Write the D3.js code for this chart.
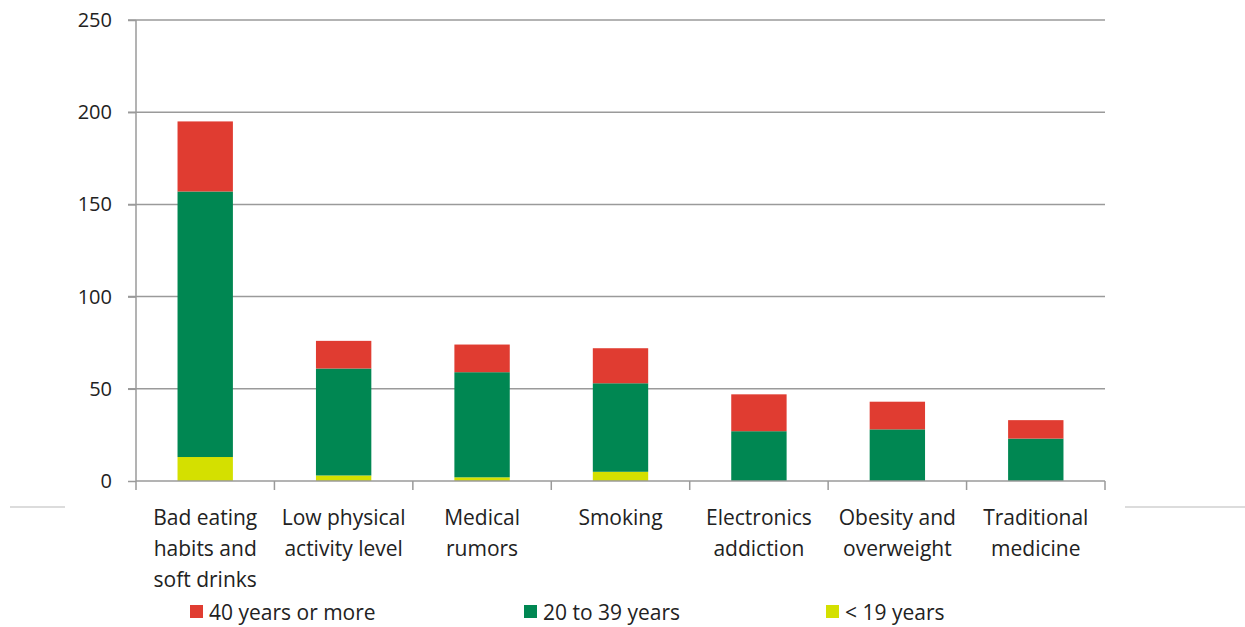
<!DOCTYPE html>
<html>
<head>
<meta charset="utf-8">
<style>
  body { margin: 0; background: #fff; }
  svg { display: block; }
  text { font-family: "Open Sans", "Liberation Sans", sans-serif; fill: #222; }
  .grid line { stroke: #9a9a9a; stroke-width: 1.5; }
  .axis path, .axis line { stroke: #9a9a9a; stroke-width: 1.5; }
</style>
</head>
<body>
<svg width="1245" height="627"></svg>
<script src="https://cdnjs.cloudflare.com/ajax/libs/d3/7.8.5/d3.min.js"></script>
<script>
// categories (multi-line labels)
var categories = [
  ["Bad eating", "habits and", "soft drinks"],
  ["Low physical", "activity level"],
  ["Medical", "rumors"],
  ["Smoking"],
  ["Electronics", "addiction"],
  ["Obesity and", "overweight"],
  ["Traditional", "medicine"]
];
var seriesNames = ["< 19 years", "20 to 39 years", "40 years or more"];
var under19 = [13, 3, 2, 5, 0, 0, 0];
var from20to39 = [144, 58, 57, 48, 27, 28, 23];
var over40 = [38, 15, 15, 19, 20, 15, 10];
var yTicks = [0, 50, 100, 150, 200, 250];
var legendOrder = ["40 years or more", "20 to 39 years", "< 19 years"];

var colors = { "< 19 years": "#d4e000", "20 to 39 years": "#008752", "40 years or more": "#e03c31" };

var mLeft = 136, mRight = 1105, mTop = 20, mBottom = 481;

var rows = categories.map(function(c, i) {
  return { key: i, "< 19 years": under19[i], "20 to 39 years": from20to39[i], "40 years or more": over40[i] };
});

var x = d3.scaleBand()
  .domain(d3.range(categories.length))
  .range([mLeft, mRight])
  .paddingInner(0.6)
  .paddingOuter(0.3);

var y = d3.scaleLinear().domain([0, 250]).range([mBottom, mTop]);

var svg = d3.select('svg');

// stray grey lines at the edges of the picture
svg.append('line').attr('x1', 10).attr('x2', 65).attr('y1', 507).attr('y2', 507)
  .attr('stroke', '#d0d0d0').attr('stroke-width', 1.5);
svg.append('line').attr('x1', 1125).attr('x2', 1245).attr('y1', 507).attr('y2', 507)
  .attr('stroke', '#d0d0d0').attr('stroke-width', 1.5);

// gridlines
svg.append('g').attr('class', 'grid')
  .selectAll('line').data(yTicks.slice(1)).enter().append('line')
  .attr('x1', mLeft - 8).attr('x2', mRight)
  .attr('y1', function(d) { return y(d); }).attr('y2', function(d) { return y(d); });

// y axis
var yAxis = d3.axisLeft(y).tickValues(yTicks).tickSize(8).tickPadding(16);
svg.append('g').attr('class', 'axis')
  .attr('transform', 'translate(' + mLeft + ',0)')
  .call(yAxis)
  .call(function(g) { g.select('.domain').attr('d', 'M0,' + mTop + 'V' + mBottom); })
  .selectAll('text').style('font-size', '20px').attr('fill', '#222');

// stacked bars
var stack = d3.stack().keys(seriesNames);
var layers = stack(rows);

svg.append('g').selectAll('g').data(layers).enter().append('g')
  .attr('fill', function(d) { return colors[d.key]; })
  .selectAll('rect').data(function(d) { return d; }).enter().append('rect')
  .attr('x', function(d, i) { return x(i); })
  .attr('width', x.bandwidth())
  .attr('y', function(d) { return y(d[1]); })
  .attr('height', function(d) { return y(d[0]) - y(d[1]); });

// x axis line + category ticks
var xg = svg.append('g').attr('class', 'axis');
xg.append('line').attr('x1', mLeft).attr('x2', mRight).attr('y1', mBottom).attr('y2', mBottom);
var step = x.step();
xg.selectAll('.tk').data(d3.range(categories.length + 1)).enter().append('line')
  .attr('class', 'tk')
  .attr('x1', function(i) { return mLeft + i * step; })
  .attr('x2', function(i) { return mLeft + i * step; })
  .attr('y1', mBottom).attr('y2', mBottom + 9);

// category labels
var lab = svg.append('g').selectAll('text').data(categories).enter().append('text')
  .attr('text-anchor', 'middle')
  .style('font-size', '21px')
  .attr('x', function(d, i) { return x(i) + x.bandwidth() / 2; })
  .attr('y', 525);
lab.selectAll('tspan').data(function(d) { return d; }).enter().append('tspan')
  .attr('x', function() { return d3.select(this.parentNode).attr('x'); })
  .attr('dy', function(d, i) { return i === 0 ? 0 : 31; })
  .text(function(d) { return d; });

// legend
var legendX = [190, 524, 826];
var lg = svg.append('g').selectAll('g').data(legendOrder).enter().append('g')
  .attr('transform', function(d, i) { return 'translate(' + legendX[i] + ',613)'; });
lg.append('rect').attr('x', 0).attr('y', -8).attr('width', 13).attr('height', 13)
  .attr('fill', function(d) { return colors[d]; });
lg.append('text').attr('x', 19).attr('y', 7).style('font-size', '21px')
  .text(function(d) { return d; });
</script>
</body>
</html>
